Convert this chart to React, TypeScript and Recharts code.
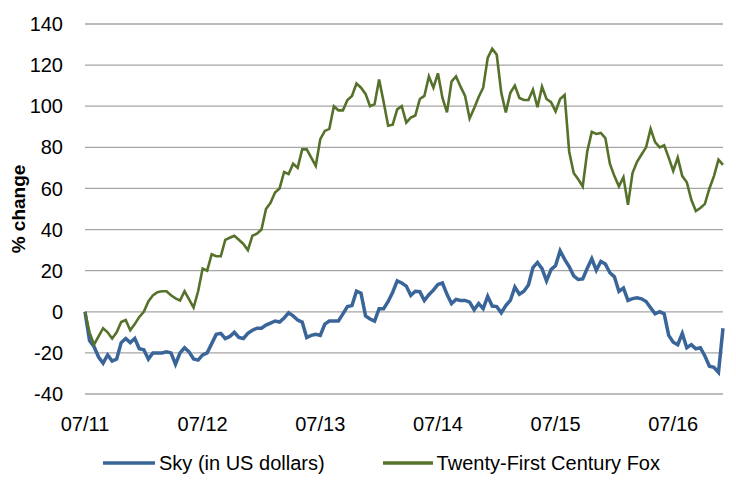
import { LineChart, Line, XAxis, YAxis, CartesianGrid, Legend } from 'recharts';

// fortnightly samples, July 2011 onwards (% change since start)
const foxChange = [
  0, -10, -16, -12, -8, -10, -13, -10, -5, -4,
  -9, -6, -2.5, 0, 5, 8, 9.5, 10, 10, 8,
  6.5, 5.5, 10, 6, 2, 10, 21, 20, 28, 27,
  27, 35, 36, 37, 35, 33, 30, 37, 38, 40,
  50, 53, 58, 60, 68, 67, 72, 70, 79, 79,
  75, 71, 84, 88, 89, 100, 98, 98, 103, 105,
  111, 109, 106, 100, 101, 113, 102, 90.5, 91, 98.5,
  100, 92, 94.5, 95.5, 103.5, 105, 114.5, 109, 116, 104,
  97, 112, 114.5, 109.5, 105, 94, 99, 104.5, 109, 123.5,
  128, 125, 106.5, 97, 106.5, 110, 104, 103, 103, 108,
  99.5, 109.5, 103.5, 102, 97.5, 103.5, 105.5, 78, 67.5, 64.5,
  61, 78, 87.5, 86.5, 87, 84.5, 72, 66, 61, 65.5,
  52, 67.5, 73, 76.5, 80, 89, 82.5, 80, 81, 75,
  68.5, 75, 66, 63, 54.5, 49, 50.5, 52.5, 60, 66,
  74, 71.5,
];

const skyChange = [
  0, -14, -17, -22, -25, -21, -24, -23, -15, -13,
  -15, -13, -18, -18.5, -23, -20, -20, -20, -19.5, -20,
  -25.5, -20, -17.5, -19.5, -23, -23.5, -21, -20, -15.5, -11,
  -10.5, -13, -12, -10, -12.5, -13, -10.5, -9, -8, -8,
  -6.5, -5.5, -4.5, -5, -3, -0.5, -2, -4, -5, -12.5,
  -11.5, -11, -11.5, -6, -4.5, -4.5, -4.5, -1, 2.5, 3,
  10, 9, -2, -3.5, -4.5, 1.5, 1.5, 5, 9.5, 15,
  14, 12.5, 8, 10, 9.8, 5.5, 8.3, 10.5, 13.3, 14,
  8.5, 4, 6, 5.5, 5.5, 4.7, 1, 4, 1.5, 7.5,
  2.8, 2.5, -0.5, 3, 5.5, 12, 8.5, 10, 13, 21.5,
  24, 21, 15, 20.5, 22.5, 29.7, 25.5, 22, 17.5, 15.7,
  16, 21.2, 25.8, 20.2, 24.5, 23.2, 19, 17, 9.9, 11.5,
  5.5, 6.4, 6.8, 6.3, 5, 2, -1, 0, -1, -11.5,
  -14.8, -16, -10.5, -17.5, -16, -18, -17.5, -21.5, -26.5, -27,
  -29.5, -8,
];

const yearLabels = ['07/11', '07/12', '07/13', '07/14', '07/15', '07/16'];
const pointsPerYear = 26;
const yTicks = [-40, -20, 0, 20, 40, 60, 80, 100, 120, 140];

const seriesNames = { sky: 'Sky (in US dollars)', fox: 'Twenty-First Century Fox' };
const SKY = '#3A6599';
const FOX = '#56712A';
const FONT = '"Liberation Sans", Arial, sans-serif';

const data = skyChange.map((v, i) => ({ t: i, sky: v, fox: foxChange[i] }));
const xTicks = yearLabels.map((_, i) => i * pointsPerYear);

function YTitle(props: any) {
  const vb = props.viewBox || { x: 0, y: 0, height: 0 };
  const cx = vb.x + 18;
  const cy = vb.y + vb.height / 2;
  return (
    <text
      x={cx}
      y={cy}
      transform={`rotate(-90, ${cx}, ${cy})`}
      textAnchor="middle"
      dominantBaseline="central"
      fontFamily={FONT}
      fontSize={19}
      fontWeight="bold"
      fill="#000"
    >
      % change
    </text>
  );
}

function LegendRow() {
  const item = (color: string, label: string, lineW: number) => (
    <div style={{ display: 'flex', alignItems: 'center' }}>
      <svg width={lineW} height={6} style={{ marginRight: 4 }}>
        <line x1={0} y1={3} x2={lineW} y2={3} stroke={color} strokeWidth={3.5} />
      </svg>
      <span>{label}</span>
    </div>
  );
  return (
    <div
      style={{
        display: 'flex',
        alignItems: 'center',
        height: 24,
        paddingLeft: 103,
        gap: 58,
        fontFamily: FONT,
        fontSize: 20,
        color: '#000',
        lineHeight: '24px',
      }}
    >
      {item(SKY, seriesNames.sky, 52)}
      {item(FOX, seriesNames.fox, 50)}
    </div>
  );
}

export default function App() {
  return (
    <div style={{ position: 'absolute', left: 0, top: 0, background: '#fff' }}>
      <LineChart
        width={736}
        height={488}
        data={data}
        margin={{ top: 24, right: 13, bottom: 13, left: 0 }}
      >
        <CartesianGrid vertical={false} stroke="#A6A6A6" strokeWidth={1.3} />
        <XAxis
          dataKey="t"
          type="number"
          domain={[0, skyChange.length - 1]}
          ticks={xTicks}
          tickFormatter={(v: number) => yearLabels[Math.round(v / pointsPerYear)]}
          axisLine={false}
          tickLine={false}
          tickMargin={17}
          height={57}
          tick={{ fontFamily: FONT, fontSize: 20, fill: '#000' }}
        />
        <YAxis
          domain={[-40, 140]}
          ticks={yTicks}
          axisLine={false}
          tickLine={false}
          tickMargin={16}
          width={85}
          tick={{ fontFamily: FONT, fontSize: 20, fill: '#000' }}
          label={<YTitle />}
        />
        <Legend verticalAlign="bottom" height={24} content={() => <LegendRow />} />
        <Line
          type="linear"
          dataKey="sky"
          name={seriesNames.sky}
          stroke={SKY}
          strokeWidth={3.5}
          dot={false}
          isAnimationActive={false}
        />
        <Line
          type="linear"
          dataKey="fox"
          name={seriesNames.fox}
          stroke={FOX}
          strokeWidth={2.6}
          dot={false}
          isAnimationActive={false}
        />
      </LineChart>
    </div>
  );
}
